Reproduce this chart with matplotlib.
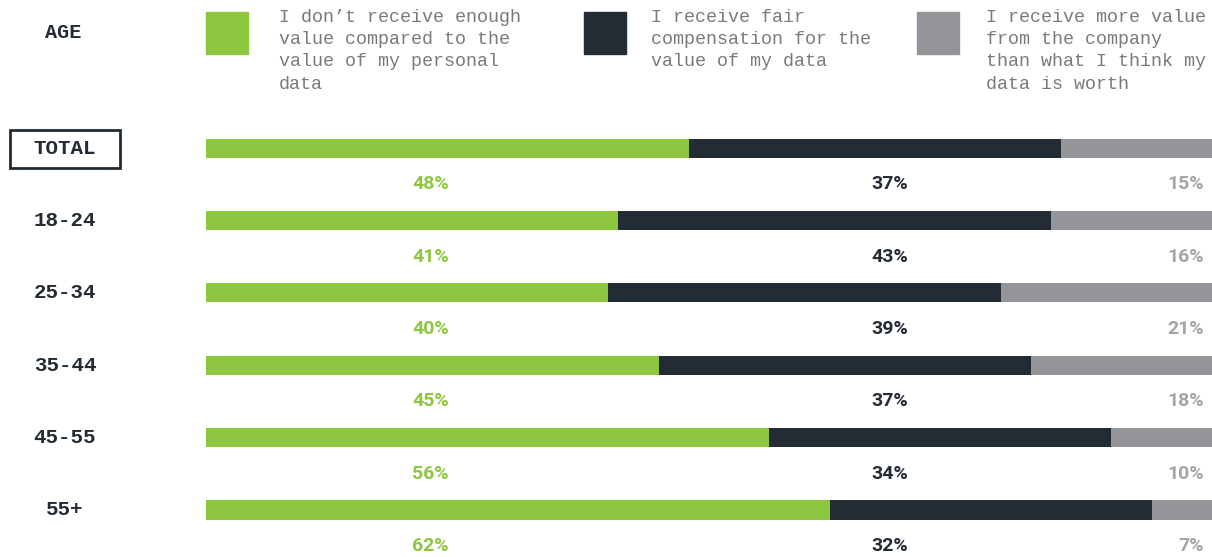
import matplotlib.pyplot as plt
import matplotlib.transforms as mtransforms
from matplotlib.patches import Rectangle

# data
ages = ["TOTAL", "18-24", "25-34", "35-44", "45-55", "55+"]
not_enough = [48, 41, 40, 45, 56, 62]
fair = [37, 43, 39, 37, 34, 32]
more_value = [15, 16, 21, 18, 10, 7]
legend_labels = [
    "I don\u2019t receive enough\nvalue compared to the\nvalue of my personal\ndata",
    "I receive fair\ncompensation for the\nvalue of my data",
    "I receive more value\nfrom the company\nthan what I think my\ndata is worth",
]

GREEN = "#8dc63f"
DARK = "#232c35"
GRAY = "#939598"
colors = [GREEN, DARK, GRAY]
label_colors = [GREEN, DARK, "#a4a5a8"]

W, H = 1212, 557
fig = plt.figure(figsize=(W / 100, H / 100), dpi=100)
ax = fig.add_axes([206 / W, 0, 1 - 206 / W, (557 - 112) / H])
ax.set_xlim(0, 100)
ax.set_ylim(5.65, -0.5)
ax.axis("off")

rows = list(range(len(ages)))
left = [0] * len(ages)
for vals, c in zip([not_enough, fair, more_value], colors):
    ax.barh(rows, vals, left=left, height=0.265, color=c, linewidth=0)
    left = [l + v for l, v in zip(left, vals)]

pct_font = dict(family=["Roboto", "DejaVu Sans"], fontsize=14, fontweight="bold")
xpos = [22.3, 68.0, 99.2]
aligns = ["center", "center", "right"]
for i in rows:
    for vals, x, ha, c in zip([not_enough, fair, more_value], xpos, aligns, label_colors):
        ax.text(x, i + 0.5, f"{vals[i]}%", ha=ha, va="center", color=c, **pct_font)

# age labels
mono = ["Liberation Mono", "DejaVu Sans Mono"]
trans = mtransforms.blended_transform_factory(fig.transFigure, ax.transData)
for i, a in zip(rows, ages):
    ax.text(65 / W, i, a, transform=trans, ha="center", va="center",
            family=mono, fontweight="bold", fontsize=15, color=DARK)
fig.patches.append(Rectangle((10 / W, 1 - 168 / H), 110 / W, 38 / H,
                             transform=fig.transFigure, fill=False,
                             edgecolor=DARK, linewidth=2))
fig.text(63 / W, 1 - 32 / H, "AGE", ha="center", va="center",
         family=mono, fontweight="bold", fontsize=14.5, color=DARK)

# legend
sq_x = [206, 584, 917]
txt_x = [279, 651, 986]
for sx, tx, c, lab in zip(sq_x, txt_x, colors, legend_labels):
    fig.patches.append(Rectangle((sx / W, 1 - 54 / H), 42 / W, 42 / H,
                                 transform=fig.transFigure, color=c))
    fig.text(tx / W, 1 - 9 / H, lab, ha="left", va="top",
             family=mono, fontsize=13.2, color="#7a7a7a", linespacing=1.4)

fig.savefig("out.png", dpi=100)
